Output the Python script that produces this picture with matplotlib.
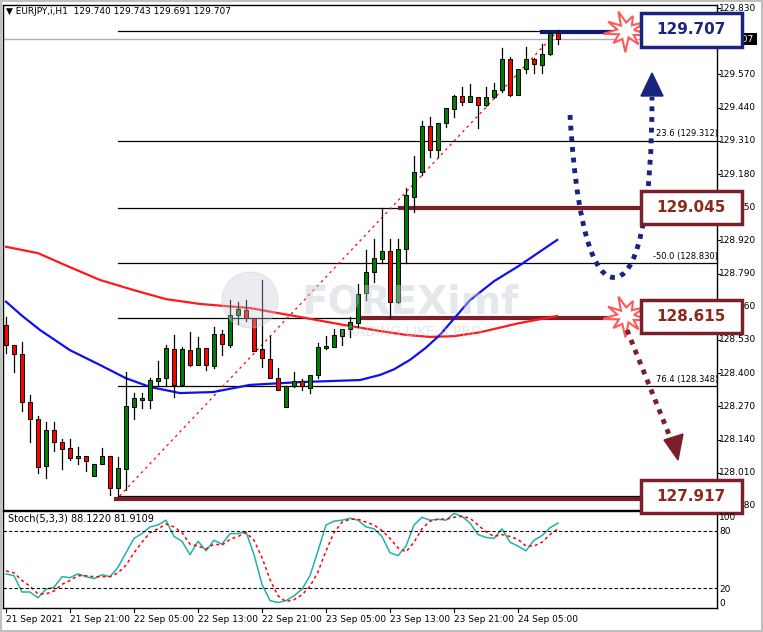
import numpy as np
import matplotlib
matplotlib.use("Agg")
import matplotlib.pyplot as plt
from matplotlib.patches import Rectangle, Polygon, PathPatch
from matplotlib.path import Path

# ---- data: hourly candles (open, high, low, close) ----
opens = [128.589,128.511,128.474,128.286,128.220,128.038,128.178,128.130,128.106,128.066,
         128.075,127.999,128.043,128.075,127.952,128.026,128.269,128.295,128.295,128.371,
         128.380,128.495,128.354,128.490,128.432,128.499,128.428,128.552,128.511,128.627,
         128.648,128.615,128.495,128.456,128.380,128.269,128.350,128.371,128.341,128.391,
         128.498,128.504,128.547,128.572,128.598,128.713,128.795,128.847,128.880,128.680,
         128.885,129.091,129.186,129.370,129.274,129.378,129.433,129.486,129.463,129.482,
         129.452,129.482,129.509,129.629,129.489,129.590,129.629,129.606,129.652,129.734]
highs = [128.619,128.511,128.521,128.315,128.233,128.207,128.207,128.143,128.141,128.110,
         128.075,128.043,128.106,128.075,128.073,128.406,128.321,128.321,128.380,128.448,
         128.511,128.549,128.502,128.563,128.541,128.499,128.580,128.569,128.687,128.680,
         128.687,128.615,128.765,128.546,128.419,128.351,128.404,128.378,128.391,128.520,
         128.547,128.573,128.573,128.619,128.749,128.883,128.924,129.045,128.924,128.924,
         129.127,129.251,129.388,129.402,129.378,129.437,129.489,129.519,129.531,129.482,
         129.519,129.535,129.672,129.639,129.593,129.676,129.636,129.689,129.737,129.743]
lows = [128.478,128.406,128.252,128.132,128.008,127.989,128.097,128.024,128.058,128.043,
        128.015,127.999,128.043,127.923,127.917,127.943,128.221,128.265,128.265,128.348,
        128.348,128.308,128.348,128.428,128.432,128.413,128.419,128.471,128.504,128.593,
        128.606,128.485,128.426,128.380,128.334,128.269,128.345,128.334,128.324,128.380,
        128.494,128.504,128.511,128.543,128.582,128.687,128.756,128.830,128.616,128.673,
        128.830,129.030,129.178,129.248,129.248,129.365,129.402,129.450,129.463,129.361,
        129.446,129.476,129.502,129.486,129.489,129.574,129.574,129.574,129.648,129.691]
closes = [128.511,128.474,128.286,128.220,128.034,128.178,128.130,128.102,128.066,128.075,
          128.054,128.043,128.075,127.952,128.028,128.272,128.302,128.302,128.374,128.381,
          128.499,128.354,128.495,128.432,128.499,128.432,128.552,128.513,128.627,128.652,
          128.615,128.488,128.458,128.380,128.334,128.351,128.371,128.348,128.391,128.502,
          128.508,128.549,128.573,128.599,128.709,128.795,128.850,128.880,128.680,128.885,
          129.096,129.186,129.370,129.274,129.378,129.437,129.485,129.463,129.486,129.452,
          129.482,129.511,129.629,129.489,129.593,129.629,129.610,129.652,129.734,129.707]

# moving averages read at candle positions
ma_red_idx = [0, 4, 8, 11.75, 16, 20, 24.25, 30.5, 36.75, 42, 46.75, 50, 53, 56, 59.25, 64, 68.9]
ma_red_val = [128.895, 128.870, 128.815, 128.765, 128.725, 128.690, 128.671, 128.655, 128.620,
              128.590, 128.565, 128.550, 128.542, 128.545, 128.560, 128.595, 128.624]
ma_blue_idx = [0, 2, 4.25, 8, 11.75, 15, 18, 21.75, 25.9, 30.5, 36.75, 44.25, 46.75, 48.5, 50.5,
               52.5, 54.25, 58, 61, 64.25, 68.9]
ma_blue_val = [128.680, 128.625, 128.569, 128.490, 128.432, 128.380, 128.346, 128.322, 128.326,
               128.354, 128.365, 128.373, 128.393, 128.415, 128.452, 128.500, 128.550, 128.686,
               128.760, 128.823, 128.922]

stoch_k = [35,33,16,16,10,19,21,32,31,35,32,30,34,32,42,57,72,77,84,86,91,74,69,55,69,59,70,66,77,77,
           79,55,24,7,5,7,12,19,33,59,86,90,91,93,91,84,82,74,57,54,64,86,94,91,92,91,98,95,88,76,
           73,72,82,68,64,59,70,75,83,88]
stoch_d = [38,36,28,22,14,14,17,24,28,33,33,32,32,32,36,44,57,68,78,82,87,84,78,66,64,61,66,65,71,74,
           78,70,52,29,12,6,8,13,22,37,59,78,89,92,92,89,86,80,72,62,58,68,82,90,92,92,94,95,93,86,
           79,74,76,74,71,64,64,68,76,82]

price_ticks = [129.830,129.700,129.570,129.440,129.310,129.180,129.050,128.920,128.790,128.660,
               128.530,128.400,128.270,128.140,128.010,127.880]
date_labels = ["21 Sep 2021","21 Sep 21:00","22 Sep 05:00","22 Sep 13:00","22 Sep 21:00",
               "23 Sep 05:00","23 Sep 13:00","23 Sep 21:00","24 Sep 05:00"]
fib_levels = [129.741, 129.309, 129.047, 128.831, 128.616, 128.350, 127.919]
key_levels = [129.707, 129.045, 128.615, 127.917]

W, H = 763, 632
fig = plt.figure(figsize=(W/100, H/100), dpi=100)
fig.patch.set_facecolor("white")

def fx(px): return px / W
def fy(py): return 1 - py / H

ax = fig.add_axes([fx(3), fy(510), fx(714), 505/H])
axs = fig.add_axes([fx(3), fy(608), fx(714), 97/H])
XL = (-0.375, 88.875)
ax.set_xlim(*XL); axs.set_xlim(*XL)
ax.set_ylim(127.864, 129.842)
axs.set_ylim(-0.7, 100.6)
for a in (ax, axs):
    a.set_xticks([]); a.set_yticks([])
    for s in a.spines.values():
        s.set_color("black"); s.set_linewidth(1)

# fib lines
for lv in fib_levels:
    ax.plot([14, XL[1]], [lv, lv], color="black", lw=0.9, zorder=1)
# bid line
ax.axhline(key_levels[0], color="#b0b0b0", lw=1, zorder=1)
# diagonal
ax.plot([14.2, 69], [127.919, 129.741], color="red", lw=0.9, ls=(0, (2, 3)), zorder=2)

# key level thick lines
ax.plot([67, 76.7], [key_levels[0] + 0.028, key_levels[0] + 0.028], color="#0d1a6e", lw=3, zorder=3)
ax.plot([49.3, 79.5], [key_levels[1], key_levels[1]], color="#7b1f2b", lw=3, zorder=3)
ax.plot([44.5, 77], [key_levels[2], key_levels[2]], color="#7b1f2b", lw=3, zorder=3)
ax.plot([13.7, XL[1]], [key_levels[3] - 0.01, key_levels[3] - 0.01], color="#7b1f2b", lw=3, zorder=3)

# MAs
ax.plot(ma_red_idx, ma_red_val, color="#ff1a1a", lw=1.6, zorder=4)
ax.plot(ma_blue_idx, ma_blue_val, color="#1010ee", lw=1.6, zorder=4)

# candles
for i, (o, h, l, c) in enumerate(zip(opens, highs, lows, closes)):
    col = "#008000" if c >= o else "#ff0000"
    ax.plot([i, i], [l, h], color="black", lw=0.9, zorder=5)
    lo, hi = min(o, c), max(o, c)
    ax.add_patch(Rectangle((i - 0.3, lo), 0.6, max(hi - lo, 0.003), facecolor=col,
                           edgecolor="black", lw=0.7, zorder=6))

# fib text labels
ax.text(81.3, 129.312 + 0.01, "23.6 (129.312)", fontsize=6, ha="left", va="bottom", zorder=7)
ax.text(80.9, 128.830 + 0.01, "-50.0 (128.830)", fontsize=6, ha="left", va="bottom", zorder=7)
ax.text(81.3, 128.348 + 0.01, "76.4 (128.348)", fontsize=6, ha="left", va="bottom", zorder=7)

# stochastic
idx = np.arange(len(stoch_k))
axs.plot(idx, stoch_k, color="#20b2aa", lw=1.1)
axs.plot(idx, stoch_d, color="red", lw=1.1, ls=(0, (2, 2)))
for lv in (80, 20):
    axs.axhline(lv, color="black", lw=0.8, ls=(0, (3, 2)))
axs.text(0.3, 93, "Stoch(5,3,3) 88.1220 81.9109", fontsize=7, va="center")

# price tick labels (figure coords)
ymin, ymax = ax.get_ylim()
def price_py(p): return 510 - (p - ymin) / (ymax - ymin) * 505
for p in price_ticks:
    py = price_py(p)
    fig.text(fx(719), fy(py), f"{p:.3f}", fontsize=6.5, va="center", ha="left")
    fig.add_artist(plt.Line2D([fx(717), fx(720)], [fy(py), fy(py)], color="black", lw=0.8))
for v, py in zip((100, 80, 20, 0), (518, 531, 589, 603)):
    fig.text(fx(719), fy(py), str(v), fontsize=6.5, va="center", ha="left", zorder=20)

# date labels
for k, lab in enumerate(date_labels):
    i = 8 * k
    px = 3 + (i - XL[0]) / (XL[1] - XL[0]) * 714
    fig.text(fx(px), fy(620), lab, fontsize=6.5, va="center", ha="left")
    fig.add_artist(plt.Line2D([fx(px), fx(px)], [fy(608), fy(612)], color="black", lw=0.8))

fig.text(fx(6), fy(12), "▼ EURJPY,i,H1  129.740 129.743 129.691 129.707", fontsize=6.5, va="center")

# overlay axes in pixel coords
ov = fig.add_axes([0, 0, 1, 1], zorder=10)
ov.set_xlim(0, W); ov.set_ylim(H, 0); ov.axis("off")
ov.patch.set_alpha(0)

# watermark
ov.add_patch(plt.Circle((250, 300), 28, color="#c8cbd8", alpha=0.35, zorder=0))
ov.text(410, 302, "FOREXimf", fontsize=28, fontweight="bold", color="#c8cbd8", alpha=0.45,
        ha="center", va="center", zorder=0)
ov.text(410, 332, "TRADING LIKE A PRO", fontsize=10, color="#c8cbd8", alpha=0.45,
        ha="center", va="center", zorder=0)

# current price label
ov.add_patch(Rectangle((717, 33), 40, 12, facecolor="black", zorder=1))
ov.text(754, 39, "129.707", color="white", fontsize=6.5, ha="right", va="center", zorder=1)

def box(y0, y1, txt, ec, tc):
    ov.add_patch(Rectangle((641, y0), 101, y1 - y0, facecolor="white", edgecolor=ec, lw=2.5, zorder=3))
    ov.text(691, (y0 + y1) / 2, txt, color=tc, fontsize=11, fontweight="bold",
            ha="center", va="center", zorder=4)

box(13, 47, "129.707", "#1a237e", "#1a237e")
box(191, 224, "129.045", "#7b1f2b", "#8b2a1a")
box(300, 333, "128.615", "#7b1f2b", "#8b2a1a")
box(480, 513, "127.917", "#7b1f2b", "#8b2a1a")

def star(cx, cy):
    radii = [24, 9, 20, 8, 25, 10, 19, 8, 23, 9, 21, 8, 24, 10, 19, 9, 22, 8]
    n = len(radii)
    pts = [(cx + r * np.cos(2 * np.pi * k / n + 0.2), cy + r * 0.85 * np.sin(2 * np.pi * k / n + 0.2))
           for k, r in enumerate(radii)]
    ov.add_patch(Polygon(pts, closed=True, facecolor="white", edgecolor="#ff5a5a", lw=1.5, zorder=2))

star(626, 31)
star(626, 316)

# blue dotted curved arrow
verts = [(570, 115), (578, 250), (600, 282), (617, 277), (640, 272), (652, 200), (652, 97)]
codes = [Path.MOVETO] + [Path.CURVE4] * 6
ov.add_patch(PathPatch(Path(verts, codes), facecolor="none", edgecolor="#1a237e", lw=3.5,
                       ls=(0, (1, 1.2)), zorder=2))
ov.add_patch(Polygon([(652, 73), (641, 96), (663, 96)], facecolor="#1a237e", edgecolor="#1a237e", zorder=2))

# maroon dotted arrow
ov.plot([627, 670], [330, 437], color="#7b1f2b", lw=3.5, ls=(0, (1, 1.2)), zorder=2)
ov.add_patch(Polygon([(678, 460), (664, 440), (683, 434)], facecolor="#7b1f2b", edgecolor="#7b1f2b", zorder=2))

# outer frame
ov.add_patch(Rectangle((0.5, 0.5), W - 1.5, H - 1.5, facecolor="none", edgecolor="#c0c0c0", lw=1.5, zorder=5))

fig.savefig("out.png", dpi=100)
